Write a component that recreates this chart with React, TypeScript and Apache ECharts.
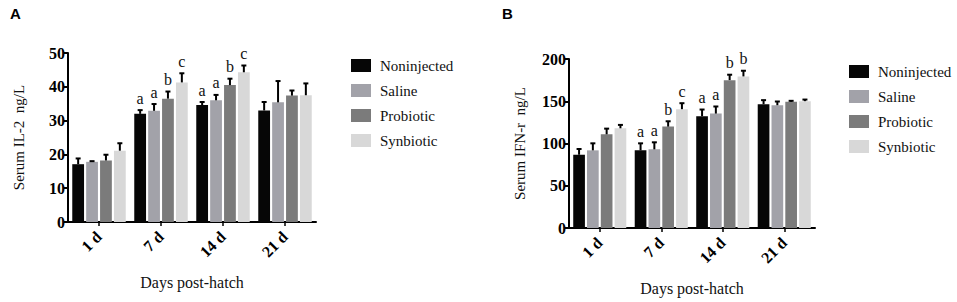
import React, { useEffect, useRef } from "react";
import * as echarts from "echarts";

const categories = ["1 d", "7 d", "14 d", "21 d"];
const groups = ["Noninjected", "Saline", "Probiotic", "Synbiotic"];
const colors = ["#060606", "#a2a2a9", "#7b7b7b", "#d8d8d8"];

// Panel A: Serum IL-2 (ng/L)
const il2Noninjected = [17.1, 32.0, 34.6, 33.0];
const il2Saline = [17.8, 32.9, 36.0, 35.4];
const il2Probiotic = [18.2, 36.5, 40.5, 37.4];
const il2Synbiotic = [21.1, 41.3, 44.3, 37.5];
const il2ErrNoninjected = [1.7, 1.1, 0.9, 2.5];
const il2ErrSaline = [0.2, 2.0, 1.6, 6.3];
const il2ErrProbiotic = [1.7, 2.1, 1.9, 1.5];
const il2ErrSynbiotic = [2.2, 2.7, 2.0, 3.5];
const il2LetNoninjected = ["", "a", "a", ""];
const il2LetSaline = ["", "a", "a", ""];
const il2LetProbiotic = ["", "b", "b", ""];
const il2LetSynbiotic = ["", "c", "c", ""];

// Panel B: Serum IFN-r (ng/L)
const ifnNoninjected = [86.7, 91.9, 132.3, 146.5];
const ifnSaline = [91.9, 93.1, 135.4, 145.3];
const ifnProbiotic = [110.9, 120.0, 175.0, 149.3];
const ifnSynbiotic = [118.0, 140.6, 179.4, 150.1];
const ifnErrNoninjected = [6.8, 8.3, 7.9, 4.8];
const ifnErrSaline = [8.3, 8.3, 8.4, 4.4];
const ifnErrProbiotic = [6.7, 6.3, 6.4, 1.2];
const ifnErrSynbiotic = [4.0, 7.1, 6.7, 1.9];
const ifnLetNoninjected = ["", "a", "a", ""];
const ifnLetSaline = ["", "a", "a", ""];
const ifnLetProbiotic = ["", "b", "b", ""];
const ifnLetSynbiotic = ["", "c", "b", ""];

const yTicksA = { min: 0, max: 50, interval: 10 };
const yTicksB = { min: 0, max: 200, interval: 50 };

const SERIF = "Liberation Serif";
const SANS = "Liberation Sans";
const BAR_FRAC = 0.19;
const GAP_FRAC = 0.18;

const panels = [
  {
    means: [il2Noninjected, il2Saline, il2Probiotic, il2Synbiotic],
    errs: [il2ErrNoninjected, il2ErrSaline, il2ErrProbiotic, il2ErrSynbiotic],
    lets: [il2LetNoninjected, il2LetSaline, il2LetProbiotic, il2LetSynbiotic],
  },
  {
    means: [ifnNoninjected, ifnSaline, ifnProbiotic, ifnSynbiotic],
    errs: [ifnErrNoninjected, ifnErrSaline, ifnErrProbiotic, ifnErrSynbiotic],
    lets: [ifnLetNoninjected, ifnLetSaline, ifnLetProbiotic, ifnLetSynbiotic],
  },
];

function makeXAxis(gridIndex: number) {
  return {
    type: "category",
    gridIndex,
    data: categories,
    name: "Days post-hatch",
    nameLocation: "middle",
    nameGap: 52,
    nameTextStyle: { fontFamily: SERIF, fontSize: 16, color: "#111" },
    axisLine: { show: true, lineStyle: { color: "#000", width: 2 } },
    axisTick: { show: true, alignWithLabel: true, length: 4, lineStyle: { color: "#000", width: 1.5 } },
    axisLabel: {
      rotate: 45,
      margin: 12,
      fontFamily: SERIF,
      fontWeight: "bold",
      fontSize: 16,
      color: "#000",
    },
    splitLine: { show: false },
  };
}

function makeYAxis(gridIndex: number, ticks: any, name: string) {
  return {
    type: "value",
    gridIndex,
    min: ticks.min,
    max: ticks.max,
    interval: ticks.interval,
    name,
    nameLocation: "middle",
    nameGap: 42,
    nameTextStyle: { fontFamily: SERIF, fontSize: 15, color: "#111" },
    axisLine: { show: true, lineStyle: { color: "#000", width: 2 } },
    axisTick: { show: true, length: 4, lineStyle: { color: "#000", width: 2 } },
    axisLabel: {
      margin: 3,
      fontFamily: SERIF,
      fontWeight: "bold",
      fontSize: 16,
      color: "#000",
    },
    splitLine: { show: false },
  };
}

export default function App() {
  const ref = useRef<HTMLDivElement>(null);

  useEffect(() => {
    if (!ref.current) return;
    const chart = echarts.init(ref.current, null, { renderer: "svg" });

    const series: any[] = [];
    panels.forEach((p, gi) => {
      groups.forEach((g, k) => {
        series.push({
          type: "bar",
          name: g,
          xAxisIndex: gi,
          yAxisIndex: gi,
          data: p.means[k],
          barWidth: `${BAR_FRAC * 100}%`,
          barGap: `${GAP_FRAC * 100}%`,
          itemStyle: { color: colors[k] },
          silent: true,
        });
      });
      groups.forEach((g, k) => {
        const lets = p.lets[k];
        series.push({
          type: "custom",
          xAxisIndex: gi,
          yAxisIndex: gi,
          z: 10,
          silent: true,
          data: p.means[k].map((m, i) => [i, m, p.errs[k][i]]),
          renderItem: (params: any, api: any) => {
            const cat = api.value(0);
            const mean = api.value(1);
            const err = api.value(2);
            const base = api.coord([cat, mean]);
            const top = api.coord([cat, mean + err]);
            const band = api.size([1, 0])[0];
            const bw = band * BAR_FRAC;
            const gap = bw * GAP_FRAC;
            const x = base[0] + (k - 1.5) * (bw + gap);
            const children: any[] = [
              {
                type: "line",
                shape: { x1: x, y1: base[1], x2: x, y2: top[1] },
                style: { stroke: "#000", lineWidth: 2 },
              },
              {
                type: "line",
                shape: { x1: x - 2.5, y1: top[1], x2: x + 2.5, y2: top[1] },
                style: { stroke: "#000", lineWidth: 2 },
              },
            ];
            const letter = lets[params.dataIndex];
            if (letter) {
              children.push({
                type: "text",
                x,
                y: top[1] - 4,
                style: {
                  text: letter,
                  fontFamily: SERIF,
                  fontSize: 16,
                  fill: "#111",
                  align: "center",
                  verticalAlign: "bottom",
                },
              });
            }
            return { type: "group", children };
          },
        });
      });
    });

    const legendBase = {
      orient: "vertical",
      data: groups,
      icon: "rect",
      itemWidth: 20,
      itemHeight: 13,
      itemGap: 10,
      padding: 0,
      selectedMode: false,
      textStyle: { fontFamily: SERIF, fontSize: 15, color: "#111", lineHeight: 15, padding: [0, 0, 0, 4] },
    };

    chart.setOption({
      animation: false,
      backgroundColor: "#fff",
      grid: [
        { left: 68, top: 53, width: 248, height: 169 },
        { left: 569, top: 59, width: 246, height: 169 },
      ],
      xAxis: [makeXAxis(0), makeXAxis(1)],
      yAxis: [
        makeYAxis(0, yTicksA, "Serum IL-2  ng/L"),
        makeYAxis(1, yTicksB, "Serum IFN-r  ng/L"),
      ],
      legend: [
        { ...legendBase, left: 351, top: 58 },
        { ...legendBase, left: 849, top: 64 },
      ],
      graphic: [
        {
          type: "text",
          left: 10,
          top: 6,
          style: { text: "A", fontFamily: SANS, fontWeight: "bold", fontSize: 15, fill: "#000" },
        },
        {
          type: "text",
          left: 502,
          top: 6,
          style: { text: "B", fontFamily: SANS, fontWeight: "bold", fontSize: 15, fill: "#000" },
        },
      ],
      series,
    });

    return () => chart.dispose();
  }, []);

  return (
    <div
      ref={ref}
      style={{ position: "fixed", left: 0, top: 0, width: 957, height: 302, background: "#fff" }}
    />
  );
}
